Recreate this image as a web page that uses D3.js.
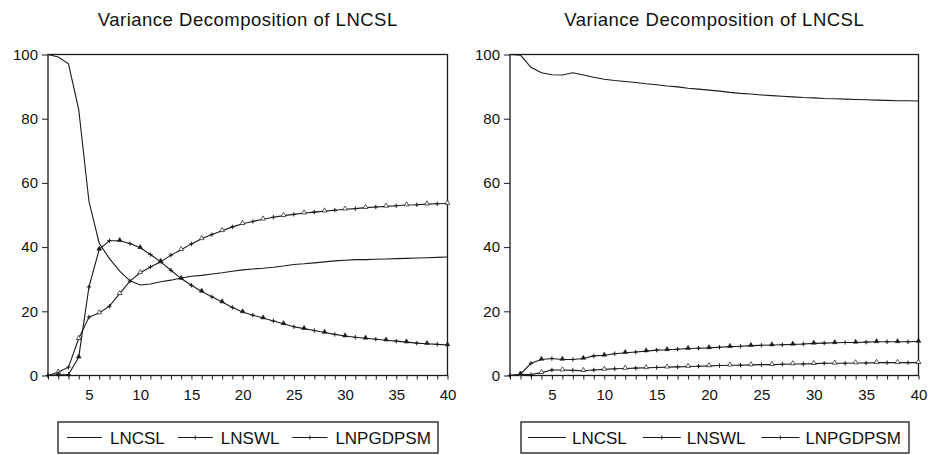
<!DOCTYPE html>
<html>
<head>
<meta charset="utf-8">
<script src="https://cdn.jsdelivr.net/npm/d3@7"></script>
<style>
  html, body { margin: 0; padding: 0; background: #fff; }
  svg { display: block; font-family: "Liberation Sans", Arial, sans-serif; }
</style>
</head>
<body>
<svg id="chart" width="928" height="455"></svg>
<script>
// ---------------- data ----------------
const periods = d3.range(1, 41);
const seriesNames = ["LNCSL", "LNSWL", "LNPGDPSM"];
const titleText = "Variance Decomposition of LNCSL";
const yTicks = [0, 20, 40, 60, 80, 100];
const xTickLabels = [5, 10, 15, 20, 25, 30, 35, 40];

// Left panel
const leftLNCSL = [100, 99.2, 97.1, 82.8, 54.2, 41.2, 36.4, 32.5, 29.5, 28.2,
  28.5, 29.2, 29.7, 30.4, 30.9, 31.2, 31.6, 32.0, 32.5, 32.9,
  33.2, 33.4, 33.7, 34.1, 34.6, 34.8, 35.1, 35.4, 35.7, 35.9,
  36.1, 36.1, 36.2, 36.3, 36.4, 36.5, 36.6, 36.7, 36.8, 36.9];
const leftLNSWL = [0, 1.0, 2.6, 11.5, 18.2, 19.5, 21.6, 25.5, 29.4, 32.0,
  33.8, 35.4, 37.5, 39.2, 41.0, 42.6, 43.9, 45.1, 46.3, 47.3,
  48.0, 48.7, 49.3, 49.8, 50.2, 50.6, 50.9, 51.2, 51.5, 51.8,
  52.0, 52.3, 52.5, 52.7, 52.9, 53.1, 53.2, 53.4, 53.5, 53.6];
const leftLNPGDPSM = [0, 0.2, 0.3, 5.7, 27.6, 39.3, 42.0, 42.0, 41.1, 39.8,
  37.7, 35.4, 32.8, 30.2, 28.1, 26.2, 24.5, 22.9, 21.2, 19.8,
  18.8, 17.9, 17.0, 16.1, 15.2, 14.6, 14.0, 13.4, 12.8, 12.3,
  11.9, 11.6, 11.3, 11.0, 10.7, 10.4, 10.1, 9.9, 9.7, 9.5];

// Right panel
const rightLNCSL = [100, 99.8, 96.0, 94.3, 93.7, 93.6, 94.3, 93.6, 92.9, 92.3,
  91.9, 91.6, 91.3, 90.9, 90.6, 90.2, 89.9, 89.5, 89.2, 88.9,
  88.6, 88.2, 87.9, 87.7, 87.4, 87.2, 87.0, 86.8, 86.6, 86.5,
  86.3, 86.2, 86.1, 86.0, 85.9, 85.8, 85.7, 85.6, 85.6, 85.5];
const rightLNSWL = [0, 0.3, 0.3, 0.9, 1.7, 1.7, 1.6, 1.5, 1.7, 1.9,
  2.1, 2.2, 2.3, 2.4, 2.5, 2.6, 2.7, 2.8, 2.9, 3.0,
  3.1, 3.2, 3.2, 3.3, 3.4, 3.4, 3.5, 3.6, 3.6, 3.7,
  3.8, 3.8, 3.8, 3.9, 3.9, 4.0, 4.0, 4.0, 4.0, 4.0];
const rightLNPGDPSM = [0, 0.4, 3.8, 5.0, 5.3, 5.0, 5.0, 5.3, 6.1, 6.3,
  6.8, 7.1, 7.3, 7.6, 7.9, 8.0, 8.2, 8.4, 8.5, 8.6,
  8.8, 9.0, 9.1, 9.3, 9.4, 9.5, 9.6, 9.7, 9.8, 10.0,
  10.1, 10.2, 10.3, 10.3, 10.4, 10.5, 10.5, 10.5, 10.5, 10.6];

// ---------------- layout ----------------
const svg = d3.select("#chart");
const INK = "#1a1a1a";
const FONT = "'Liberation Sans', Arial, sans-serif";

const panels = [
  { x0: 48, x1: 447.5,
    legend: { x: 58, w: 380, pad: 9, sample: 35, gapA: 8, gapB: 13 },
    data: [leftLNCSL, leftLNSWL, leftLNPGDPSM] },
  { x0: 510, x1: 918.5,
    legend: { x: 521, w: 388, pad: 7, sample: 38, gapA: 6, gapB: 16 },
    data: [rightLNCSL, rightLNSWL, rightLNPGDPSM] }
];
const yTop = 54.5, yBottom = 375.5;

function crossPath(cx, cy, r) {
  return `M${cx - r},${cy}H${cx + r}M${cx},${cy - r}V${cy + r}`;
}

panels.forEach(p => {
  const g = svg.append("g");
  const x = d3.scaleLinear().domain([1, 40]).range([p.x0, p.x1]);
  const y = d3.scaleLinear().domain([0, 100]).range([yBottom, yTop]);

  // title
  g.append("text")
    .attr("x", (p.x0 + p.x1) / 2)
    .attr("y", 26)
    .attr("text-anchor", "middle")
    .attr("font-size", 18.5)
    .attr("letter-spacing", 0.5)
    .attr("font-family", FONT)
    .attr("fill", "#111")
    .text(titleText);

  // y axis
  const yAxis = g.append("g")
    .attr("transform", `translate(${p.x0},0)`)
    .call(d3.axisLeft(y).tickValues(yTicks).tickSize(6).tickPadding(4));
  yAxis.select(".domain").remove();
  yAxis.attr("font-family", FONT);
  yAxis.selectAll(".tick line").attr("stroke", INK);
  yAxis.selectAll(".tick text")
    .attr("font-size", 15)
    .attr("fill", "#111");

  // x axis
  const xAxis = g.append("g")
    .attr("transform", `translate(0,${yBottom})`)
    .call(d3.axisBottom(x).tickValues(periods).tickSize(4).tickPadding(10)
      .tickFormat(d => xTickLabels.includes(d) ? d : ""));
  xAxis.select(".domain").remove();
  xAxis.attr("font-family", FONT);
  xAxis.selectAll(".tick line").attr("stroke", INK);
  xAxis.selectAll(".tick text")
    .attr("font-size", 15)
    .attr("fill", "#111");

  // frame
  g.append("rect")
    .attr("x", p.x0).attr("y", yTop)
    .attr("width", p.x1 - p.x0).attr("height", yBottom - yTop)
    .attr("fill", "none").attr("stroke", INK).attr("stroke-width", 1.3);

  const line = d3.line().x((d, i) => x(periods[i])).y(d => y(d));

  p.data.forEach((vals, si) => {
    g.append("path")
      .datum(vals)
      .attr("d", line)
      .attr("fill", "none")
      .attr("stroke", INK)
      .attr("stroke-width", 1.1);

    if (si > 0) {
      const mk = g.append("g");
      vals.forEach((v, i) => {
        const cx = x(periods[i]), cy = y(v);
        if (i % 2 === 0) {
          mk.append("path").attr("d", crossPath(cx, cy, 2.2))
            .attr("stroke", INK).attr("stroke-width", 1);
        } else {
          mk.append("path")
            .attr("d", d3.symbol().type(d3.symbolTriangle).size(10)())
            .attr("transform", `translate(${cx},${cy - 0.5})`)
            .attr("fill", si === 2 ? INK : "#fff")
            .attr("stroke", INK).attr("stroke-width", si === 2 ? 0.5 : 0.7);
        }
      });
    }
  });

  // legend
  const L = p.legend;
  const lg = g.append("g");
  lg.append("rect")
    .attr("x", L.x).attr("y", 422)
    .attr("width", L.w).attr("height", 31)
    .attr("fill", "#fff").attr("stroke", INK).attr("stroke-width", 1.3);
  let cur = L.x + L.pad;
  const ly = 437.5;
  seriesNames.forEach((name, si) => {
    const sx0 = cur, sx1 = cur + L.sample;
    lg.append("line")
      .attr("x1", sx0).attr("x2", sx1).attr("y1", ly).attr("y2", ly)
      .attr("stroke", INK).attr("stroke-width", 1.1);
    if (si > 0) {
      lg.append("path").attr("d", crossPath((sx0 + sx1) / 2, ly, 2))
        .attr("stroke", INK).attr("stroke-width", 1);
    }
    const t = lg.append("text")
      .attr("x", sx1 + L.gapA).attr("y", ly + 6)
      .attr("font-size", 17)
      .attr("font-family", FONT)
      .attr("fill", "#111")
      .text(name);
    const w = t.node().getComputedTextLength();
    cur = sx1 + L.gapA + w + L.gapB;
  });
});
</script>
</body>
</html>
